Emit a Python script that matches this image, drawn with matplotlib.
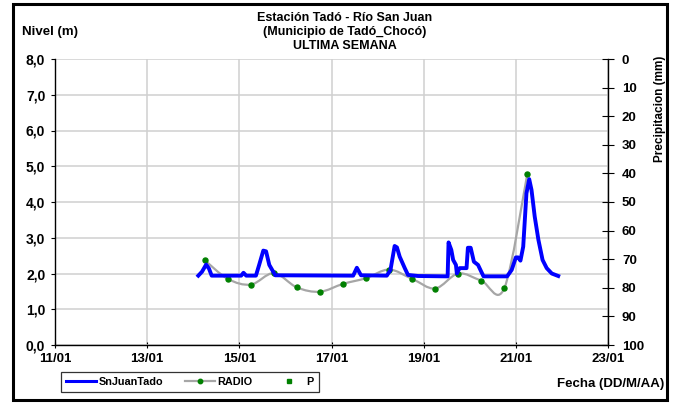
import matplotlib
matplotlib.use("Agg")
import matplotlib.pyplot as plt
from matplotlib.path import Path
from matplotlib.patches import PathPatch, Rectangle
from matplotlib.lines import Line2D

plt.rcParams['font.family'] = ['Liberation Sans', 'DejaVu Sans']
plt.rcParams['font.weight'] = 'bold'

# river level (m), time in day-of-January
nivel_dia = [14.11, 14.19, 14.28, 14.34, 14.40, 15.04, 15.09, 15.15, 15.36, 15.43,
             15.52, 15.58, 15.65, 15.78, 17.47, 17.55, 17.64, 18.20, 18.28, 18.37,
             18.42, 18.48, 18.59, 18.66, 18.88, 19.52, 19.54, 19.60, 19.64, 19.70,
             19.72, 19.78, 19.85, 19.93, 19.96, 20.02, 20.09, 20.18, 20.25, 20.30,
             20.81, 20.91, 21.00, 21.05, 21.10, 21.16, 21.23, 21.29, 21.34, 21.41,
             21.49, 21.58, 21.67, 21.78, 21.92]
nivel_m = [1.94, 2.05, 2.25, 2.14, 1.94, 1.94, 2.02, 1.94, 1.94, 2.24,
           2.64, 2.62, 2.24, 1.95, 1.94, 2.16, 1.95, 1.94, 2.10, 2.77,
           2.73, 2.47, 2.15, 1.96, 1.93, 1.92, 2.87, 2.66, 2.38, 2.24,
           2.00, 2.15, 2.15, 2.15, 2.72, 2.72, 2.33, 2.24, 2.05, 1.92,
           1.92, 2.10, 2.45, 2.45, 2.36, 2.75, 4.24, 4.64, 4.34, 3.59,
           2.94, 2.38, 2.15, 2.00, 1.93]

# radio readings every 12 h
radio_dia = [14.25, 14.75, 15.25, 15.75, 16.25, 16.75, 17.25, 17.75,
             18.25, 18.75, 19.25, 19.75, 20.25, 20.75, 21.25]
radio_m = [2.37, 1.85, 1.69, 2.01, 1.61, 1.49, 1.71, 1.87,
           2.11, 1.85, 1.58, 2.00, 1.80, 1.59, 4.79]

# precipitation (mm), no records this week
p_dia = []
p_mm = []

x_ticks = [11, 13, 15, 17, 19, 21, 23]
x_labels = ["%02d/01" % d for d in x_ticks]


def smooth_path(xs, ys, t=1.0 / 6):
    # Catmull-Rom style bezier through every point
    verts = [(xs[0], ys[0])]
    codes = [Path.MOVETO]
    n = len(xs)
    for i in range(n - 1):
        x0, y0 = (xs[i - 1], ys[i - 1]) if i > 0 else (xs[i], ys[i])
        x1, y1 = xs[i], ys[i]
        x2, y2 = xs[i + 1], ys[i + 1]
        x3, y3 = (xs[i + 2], ys[i + 2]) if i + 2 < n else (x2, y2)
        c1 = (x1 + (x2 - x0) * t, y1 + (y2 - y0) * t)
        c2 = (x2 - (x3 - x1) * t, y2 - (y3 - y1) * t)
        verts += [c1, c2, (x2, y2)]
        codes += [Path.CURVE4] * 3
    return Path(verts, codes)


fig = plt.figure(figsize=(6.79, 4.03), dpi=100)
ax = fig.add_axes([55 / 679, 58 / 403, 553 / 679, 286 / 403])

ax.set_xlim(11, 23)
ax.set_ylim(0, 8)
ax.set_xticks(x_ticks)
ax.set_xticklabels(x_labels)
ax.set_yticks(range(0, 9))
ax.set_yticklabels(["%d,0" % v for v in range(0, 9)])
ax.grid(True, color="#d0d0d0", lw=1.1)
ax.set_axisbelow(True)
for s in ["top", "right"]:
    ax.spines[s].set_visible(False)
ax.spines["left"].set_linewidth(1.0)
ax.spines["bottom"].set_linewidth(1.0)
ax.tick_params(axis="y", direction="out", length=3, labelsize=10, pad=4)
ax.tick_params(axis="x", direction="inout", length=5, labelsize=9.5, pad=3)

ax.add_patch(PathPatch(smooth_path(radio_dia, radio_m), fill=False,
                       edgecolor="#a6a6a6", lw=1.6, zorder=3))
ax.plot(radio_dia, radio_m, ls="none", marker="o", ms=3.6,
        color="#008000", zorder=4)
ax.plot(nivel_dia, nivel_m, color="#0000ff", lw=2.8, zorder=5,
        solid_joinstyle="round")

ax2 = ax.twinx()
ax2.set_ylim(100, 0)
ax2.set_yticks(range(0, 101, 10))
ax2.plot(p_dia, p_mm, ls="none", marker="s", ms=2.5, color="#008000")
for s in ["top", "left", "bottom"]:
    ax2.spines[s].set_visible(False)
ax2.spines["right"].set_linewidth(1.0)
ax2.tick_params(axis="y", direction="inout", length=8, labelsize=9.5, pad=6)

fig.text(0.508, 0.955, "Estación Tadó - Río San Juan", ha="center", va="center", fontsize=9)
fig.text(0.508, 0.921, "(Municipio de Tadó_Chocó)", ha="center", va="center", fontsize=9)
fig.text(0.508, 0.886, "ULTIMA SEMANA", ha="center", va="center", fontsize=9)
fig.text(0.032, 0.921, "Nivel (m)", ha="left", va="center", fontsize=9.5)
fig.text(0.979, 0.048, "Fecha (DD/M/AA)", ha="right", va="center", fontsize=9.5)
fig.text(0.972, 0.73, "Precipitacion (mm)", ha="center", va="center",
         rotation=90, fontsize=8.5)

handles = [
    Line2D([], [], color="#0000ff", lw=2.2),
    Line2D([], [], color="#a6a6a6", lw=1.6, marker="o", ms=3.2,
           mfc="#008000", mec="#008000"),
    Line2D([], [], ls="none", marker="s", ms=2.5, color="#008000"),
]
leg = fig.legend(handles, ["SnJuanTado", "RADIO", "P"], ncol=3,
                 loc="center", bbox_to_anchor=(190 / 679, 0.052),
                 fontsize=7.8, frameon=True, fancybox=False,
                 handlelength=2.8, handletextpad=0.2, columnspacing=2.0,
                 borderpad=0.45)
leg.get_frame().set_edgecolor("black")
leg.get_frame().set_linewidth(0.9)

fig.patches.append(Rectangle((13 / 679, 3 / 403), 654 / 679, 396 / 403,
                             transform=fig.transFigure, fill=False,
                             edgecolor="black", lw=2.2))

fig.savefig("out.png", dpi=100)
